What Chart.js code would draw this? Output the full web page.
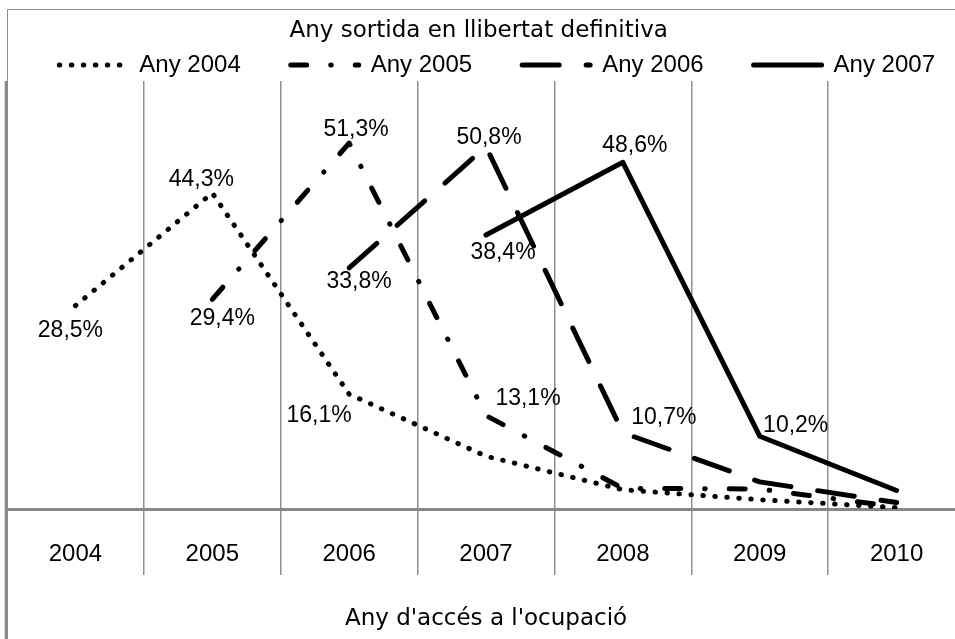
<!DOCTYPE html>
<html><head><meta charset="utf-8">
<script src="https://cdn.jsdelivr.net/npm/chart.js@4/dist/chart.umd.min.js"></script>
<style>html,body{margin:0;padding:0;overflow:hidden;background:#fff}canvas{display:block}</style>
</head><body>
<canvas id="c" width="975" height="639"></canvas>
<script>
// ---- data ----
const categories = ['2004', '2005', '2006', '2007', '2008', '2009', '2010'];
const seriesNames = ['Any 2004', 'Any 2005', 'Any 2006', 'Any 2007'];
const any2004 = [28.5, 44.3, 16.1, 7.4, 2.7, 1.3, 0.2];
const any2005 = [null, 29.4, 51.3, 13.1, 2.9, 2.8, 0.3];
const any2006 = [null, null, 33.8, 50.8, 10.7, 3.8, 0.9];
const any2007 = [null, null, null, 38.4, 48.6, 10.2, 2.6];
const chartTitle = 'Any sortida en llibertat definitiva';
const axisTitle = "Any d'accés a l'ocupació";
const yMin = 0, yMax = 60;

// ---- styling / placement (not data) ----
const labelOffsets = [
  [[-5, 25], [-11, -13], [-30, 22]],
  [[10, 19], [7, -13], [42, -17]],
  [[10, 14], [3, -9], [41, -15]],
  [[17, 18], [12, -17], [36, -11]]
];
const dashes = [[0.5, 11.5], [16, 24, 0.5, 24], [37, 27], []];
const legendTrail = ['      ', '      ', '      ', '   '];
const LBL = 'Liberation Sans';
const TTL = 'DejaVu Sans';

const seriesValues = [any2004, any2005, any2006, any2007];
const datasets = seriesValues.map((vals, i) => ({
  label: seriesNames[i],
  data: vals,
  borderColor: '#000',
  backgroundColor: '#000',
  borderWidth: 5,
  borderDash: dashes[i],
  borderCapStyle: 'round',
  borderJoinStyle: 'round',
  pointRadius: 0,
  pointHoverRadius: 0,
  tension: 0,
  fill: false,
  spanGaps: false,
  order: 4 - i
}));

const framePlugin = {
  id: 'frame',
  beforeDatasetsDraw(chart) {
    const {ctx, chartArea, width, height} = chart;
    const top = chart.options.layout.padding.top;
    ctx.save();
    ctx.strokeStyle = '#8c8c8c';
    ctx.lineWidth = 1;
    ctx.beginPath();
    ctx.moveTo(chartArea.left + 0.5, height);
    ctx.lineTo(chartArea.left + 0.5, top + 0.5);
    ctx.lineTo(width, top + 0.5);
    ctx.stroke();
    ctx.lineWidth = 2.6;
    ctx.strokeStyle = '#878787';
    ctx.beginPath();
    ctx.moveTo(chartArea.left - 1, chartArea.top);
    ctx.lineTo(chartArea.left - 1, height);
    ctx.stroke();
    ctx.restore();
  }
};

const labelPlugin = {
  id: 'valueLabels',
  afterDatasetsDraw(chart) {
    const ctx = chart.ctx;
    ctx.save();
    ctx.font = '23px "' + LBL + '"';
    ctx.fillStyle = '#000';
    ctx.textAlign = 'center';
    ctx.textBaseline = 'middle';
    chart.data.datasets.forEach((ds, i) => {
      const meta = chart.getDatasetMeta(i);
      let k = 0;
      ds.data.forEach((v, j) => {
        if (v === null || k >= labelOffsets[i].length) return;
        const pt = meta.data[j];
        const off = labelOffsets[i][k++];
        ctx.fillText(v.toFixed(1).replace('.', ',') + '%', pt.x + off[0], pt.y + off[1]);
      });
    });
    ctx.restore();
  }
};

new Chart(document.getElementById('c'), {
  type: 'line',
  data: { labels: categories, datasets: datasets },
  options: {
    responsive: false,
    animation: false,
    events: [],
    layout: { padding: { left: 7, right: 10, top: 9, bottom: 0 } },
    plugins: {
      title: {
        display: true,
        text: chartTitle + '  ',
        color: '#000',
        font: { family: TTL, size: 23, weight: 'normal' },
        padding: { top: 8.2, bottom: -1.8 }
      },
      legend: {
        display: true,
        position: 'top',
        align: 'end',
        maxHeight: 38,
        labels: {
          usePointStyle: true,
          pointStyleWidth: 68,
          padding: 10,
          color: '#000',
          font: { family: LBL, size: 24 },
          generateLabels: (chart) => chart.data.datasets.map((ds, i) => ({
            text: ds.label + legendTrail[i],
            fillStyle: ds.borderColor,
            strokeStyle: ds.borderColor,
            lineWidth: ds.borderWidth,
            lineDash: ds.borderDash,
            lineCap: ds.borderCapStyle,
            lineJoin: 'round',
            pointStyle: 'line',
            hidden: false,
            fontColor: '#000',
            datasetIndex: i
          }))
        }
      },
      tooltip: { enabled: false }
    },
    scales: {
      x: {
        offset: true,
        grid: { offset: true, color: '#8f8f8f', lineWidth: 1.5, tickLength: 66, drawTicks: true },
        border: { display: true, color: '#878787', width: 3 },
        ticks: { color: '#000', font: { family: LBL, size: 24 }, padding: -35.4, maxRotation: 0, autoSkip: false },
        title: {
          display: true, text: axisTitle, color: '#000',
          font: { family: TTL, size: 23, weight: 'normal' },
          padding: { top: 0, bottom: 6.5 }
        },
        afterFit: (s) => { s.height = 130; }
      },
      y: { display: false, min: yMin, max: yMax }
    }
  },
  plugins: [framePlugin, labelPlugin]
});
</script>
</body></html>
